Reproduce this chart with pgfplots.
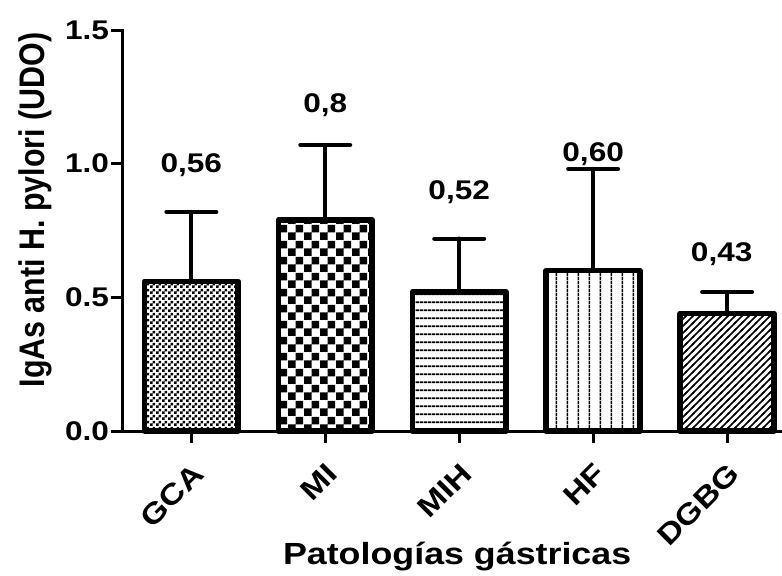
\documentclass[border=0pt]{standalone}
\usepackage{fontspec}
\setmainfont{Liberation Sans}
\newfontfamily\wide[FakeStretch=1.17]{Liberation Sans}
\usepackage{graphicx}
\usepackage{pgfplots}
\pgfplotsset{compat=1.18}
\usetikzlibrary{patterns}

\pgfdeclarepatternformonly{finecheck}{\pgfpointorigin}{\pgfqpoint{3pt}{3pt}}{\pgfqpoint{3pt}{3pt}}{%
  \pgfpathrectangle{\pgfpointorigin}{\pgfqpoint{1.5pt}{1.5pt}}%
  \pgfpathrectangle{\pgfqpoint{1.5pt}{1.5pt}}{\pgfqpoint{1.5pt}{1.5pt}}%
  \pgfusepath{fill}}
\pgfdeclarepatternformonly{coarsecheck}{\pgfpointorigin}{\pgfqpoint{8pt}{8pt}}{\pgfqpoint{8pt}{8pt}}{%
  \pgfpathrectangle{\pgfpointorigin}{\pgfqpoint{4pt}{4pt}}%
  \pgfpathrectangle{\pgfqpoint{4pt}{4pt}}{\pgfqpoint{4pt}{4pt}}%
  \pgfusepath{fill}}
\pgfdeclarepatternformonly{hlines}{\pgfpointorigin}{\pgfqpoint{2pt}{4.15pt}}{\pgfqpoint{2pt}{4.15pt}}{%
  \pgfpathrectangle{\pgfqpoint{-0.1pt}{1.6pt}}{\pgfqpoint{2.2pt}{0.85pt}}%
  \pgfusepath{fill}}
\pgfdeclarepatternformonly{vlines}{\pgfpointorigin}{\pgfqpoint{5.4pt}{2pt}}{\pgfqpoint{5.4pt}{2pt}}{%
  \pgfpathrectangle{\pgfqpoint{2.3pt}{-0.1pt}}{\pgfqpoint{0.8pt}{2.2pt}}%
  \pgfusepath{fill}}
\pgfdeclarepatternformonly{dlines}{\pgfqpoint{-1pt}{-1pt}}{\pgfqpoint{4.5pt}{4.5pt}}{\pgfqpoint{3.5pt}{3.5pt}}{%
  \pgfsetlinewidth{0.8pt}%
  \pgfpathmoveto{\pgfqpoint{-0.5pt}{-0.5pt}}%
  \pgfpathlineto{\pgfqpoint{4pt}{4pt}}%
  \pgfusepath{stroke}}

\begin{document}
\begin{tikzpicture}
\path[use as bounding box] (-61.5pt,-72pt) rectangle (329.5pt,215.5pt);
\begin{axis}[
  scale only axis,
  width=329.5pt, height=200.5pt,
  xmin=-0.51, xmax=4.41,
  ymin=0, ymax=1.5,
  axis x line*=bottom, axis y line*=left,
  axis line style={line width=1.5pt, line cap=rect},
  tick style={line width=1.5pt, black},
  major tick length=6pt,
  tick align=outside,
  /pgf/number format/assume math mode=true,
  xtick={0,1,2,3,4},
  xticklabels={GCA,MI,MIH,HF,DGBG},
  ytick={0,0.5,1,1.5},
  yticklabels={0.0,0.5,1.0,1.5},
  yticklabel style={font=\wide\fontsize{13.5}{15}\selectfont\bfseries, xshift=2.5pt},
  xticklabel style={font=\wide\fontsize{14.5}{16}\selectfont\bfseries, rotate=45, anchor=east, xshift=-3.1pt, yshift=-11.7pt},
  xlabel={Patologías gástricas},
  ylabel={\scalebox{1}[1.17]{IgAs anti H. pylori (UDO)}},
  xlabel style={font=\wide\fontsize{15.3}{17}\selectfont\bfseries, at={(axis description cs:0.507,0)}, anchor=center, yshift=-63pt},
  ylabel style={font=\fontsize{15.2}{17}\selectfont\bfseries, at={(axis description cs:-0.1335,0.551)}, anchor=center},
  ybar, bar width=0.7, bar shift=0pt,
  clip=false,
  every axis plot/.append style={draw=black, line width=2.8pt, line join=round},
  error bars/y dir=plus, error bars/y explicit,
  error bars/error bar style={line width=2pt, line cap=round},
  error bars/error mark options={rotate=90, mark size=12.5pt, line width=2pt, line cap=round},
]
\addplot[pattern=finecheck] coordinates {(0,0.56) +- (0,0.26)};
\addplot[pattern=coarsecheck] coordinates {(1,0.79) +- (0,0.28)};
\addplot[pattern=hlines] coordinates {(2,0.52) +- (0,0.20)};
\addplot[pattern=vlines] coordinates {(3,0.60) +- (0,0.38)};
\addplot[pattern=dlines] coordinates {(4,0.44) +- (0,0.08)};
\node[font=\wide\fontsize{13.5}{15}\selectfont\bfseries] at (axis cs:0,0.996) {0,56};
\node[font=\wide\fontsize{13.5}{15}\selectfont\bfseries] at (axis cs:1,1.22) {0,8};
\node[font=\wide\fontsize{13.5}{15}\selectfont\bfseries] at (axis cs:2,0.895) {0,52};
\node[font=\wide\fontsize{13.5}{15}\selectfont\bfseries] at (axis cs:3,1.034) {0,60};
\node[font=\wide\fontsize{13.5}{15}\selectfont\bfseries] at (axis cs:3.96,0.66) {0,43};
\end{axis}
\end{tikzpicture}
\end{document}
